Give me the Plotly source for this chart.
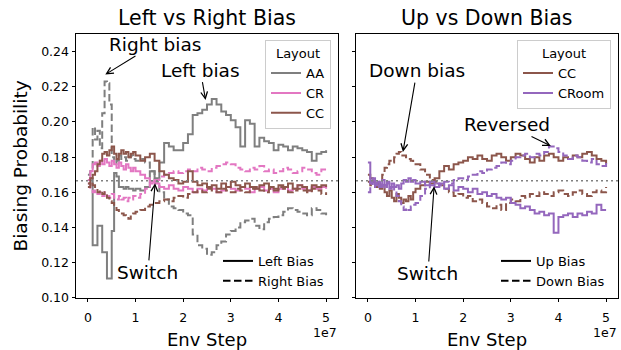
import plotly.graph_objects as go

# ---------------- data ----------------
ENV_STEP_M = [0, 0.5, 1.0, 1.5, 2.0, 2.5, 3.0, 3.5, 4.0, 4.5,
              5.0, 5.5, 6.0, 6.5, 7.0, 7.5, 8.0, 8.5, 9.0, 9.5,
              10, 11, 12, 13, 14, 15, 16, 17, 18, 19,
              20, 21, 22, 23, 24, 25, 26, 27, 28, 29,
              30, 31, 32, 33, 34, 35, 36, 37, 38, 39,
              40, 41, 42, 43, 44, 45, 46, 47, 48, 49, 50]

# Left vs Right panel
AA_LEFT = [0.167, 0.168, 0.130, 0.130, 0.141, 0.141, 0.126, 0.126, 0.111, 0.111,
           0.138, 0.171, 0.169, 0.163, 0.163, 0.162, 0.163, 0.162, 0.162, 0.161,
           0.162, 0.161, 0.163, 0.172, 0.168, 0.177, 0.188, 0.186, 0.184, 0.184,
           0.188, 0.193, 0.204, 0.205, 0.207, 0.210, 0.213, 0.210, 0.206, 0.204,
           0.201, 0.197, 0.186, 0.201, 0.199, 0.186, 0.191, 0.189, 0.188, 0.184,
           0.187, 0.186, 0.184, 0.186, 0.185, 0.184, 0.183, 0.178, 0.182, 0.183, 0.184]
AA_RIGHT = [0.170, 0.172, 0.197, 0.190, 0.195, 0.185, 0.205, 0.223, 0.222, 0.210,
            0.180, 0.176, 0.178, 0.181, 0.179, 0.180, 0.178, 0.180, 0.181, 0.179,
            0.178, 0.179, 0.177, 0.172, 0.166, 0.160, 0.156, 0.152, 0.151, 0.150,
            0.148, 0.147, 0.136, 0.130, 0.128, 0.1245, 0.126, 0.130, 0.132, 0.136,
            0.138, 0.140, 0.143, 0.144, 0.145, 0.141, 0.139, 0.143, 0.145, 0.146,
            0.147, 0.149, 0.151, 0.150, 0.149, 0.148, 0.147, 0.151, 0.150, 0.148, 0.147]
CR_LEFT = [0.167, 0.172, 0.176, 0.177, 0.175, 0.178, 0.176, 0.179, 0.177, 0.175,
           0.178, 0.176, 0.174, 0.177, 0.175, 0.173, 0.176, 0.174, 0.172, 0.174,
           0.172, 0.170, 0.168, 0.166, 0.165, 0.163, 0.162, 0.164, 0.162, 0.161,
           0.163, 0.162, 0.160, 0.162, 0.161, 0.163, 0.162, 0.160, 0.161, 0.163,
           0.162, 0.161, 0.163, 0.162, 0.160, 0.162, 0.163, 0.161, 0.162, 0.160,
           0.162, 0.163, 0.161, 0.162, 0.164, 0.162, 0.161, 0.163, 0.162, 0.163, 0.162]
CR_RIGHT = [0.165, 0.162, 0.160, 0.161, 0.159, 0.160, 0.158, 0.160, 0.158, 0.157,
            0.159, 0.157, 0.156, 0.158, 0.156, 0.157, 0.155, 0.157, 0.156, 0.158,
            0.157, 0.159, 0.162, 0.165, 0.167, 0.169, 0.170, 0.171, 0.172, 0.171,
            0.172, 0.173, 0.172, 0.174, 0.173, 0.172, 0.174, 0.175, 0.176, 0.177,
            0.176, 0.174, 0.173, 0.172, 0.174, 0.173, 0.175, 0.172, 0.173, 0.171,
            0.172, 0.174, 0.173, 0.171, 0.172, 0.174, 0.173, 0.171, 0.170, 0.173, 0.174]
CC_LEFT = [0.165, 0.168, 0.170, 0.172, 0.176, 0.178, 0.182, 0.183, 0.181, 0.184,
           0.186, 0.182, 0.179, 0.182, 0.184, 0.182, 0.183, 0.180, 0.182, 0.183,
           0.181, 0.178, 0.180, 0.182, 0.178, 0.172, 0.170, 0.168, 0.167, 0.165,
           0.166, 0.172, 0.166, 0.164, 0.165, 0.163, 0.164, 0.162, 0.165, 0.163,
           0.166, 0.164, 0.163, 0.165, 0.163, 0.162, 0.164, 0.165, 0.163, 0.162,
           0.164, 0.163, 0.165, 0.162, 0.164, 0.163, 0.161, 0.164, 0.163, 0.164, 0.163]
CC_RIGHT = [0.163, 0.166, 0.164, 0.162, 0.160, 0.161, 0.159, 0.160, 0.157, 0.155,
            0.154, 0.152, 0.150, 0.148, 0.148, 0.147, 0.146, 0.145, 0.147, 0.148,
            0.149, 0.150, 0.152, 0.153, 0.154, 0.155, 0.156, 0.155, 0.157, 0.158,
            0.157, 0.159, 0.160, 0.161, 0.160, 0.162, 0.161, 0.160, 0.162, 0.161,
            0.160, 0.162, 0.161, 0.160, 0.162, 0.163, 0.161, 0.160, 0.162, 0.161,
            0.163, 0.162, 0.160, 0.161, 0.162, 0.161, 0.160, 0.162, 0.161, 0.159, 0.160]

# Up vs Down panel
CC_UP = [0.170, 0.168, 0.166, 0.163, 0.165, 0.162, 0.164, 0.160, 0.158, 0.161,
         0.157, 0.155, 0.159, 0.157, 0.154, 0.156, 0.155, 0.158, 0.156, 0.160,
         0.162, 0.164, 0.166, 0.165, 0.168, 0.172, 0.175, 0.173, 0.176, 0.177,
         0.178, 0.180, 0.179, 0.181, 0.179, 0.178, 0.181, 0.182, 0.180, 0.178,
         0.180, 0.182, 0.181, 0.179, 0.177, 0.180, 0.178, 0.181, 0.182, 0.180,
         0.178, 0.180, 0.179, 0.181, 0.180, 0.182, 0.183, 0.181, 0.179, 0.178, 0.176]
CC_DOWN = [0.166, 0.164, 0.166, 0.165, 0.163, 0.167, 0.170, 0.174, 0.176, 0.178,
           0.177, 0.180, 0.182, 0.183, 0.181, 0.181, 0.180, 0.179, 0.178, 0.177,
           0.176, 0.173, 0.170, 0.167, 0.166, 0.164, 0.162, 0.160, 0.158, 0.159,
           0.157, 0.158, 0.155, 0.156, 0.154, 0.152, 0.151, 0.153, 0.150, 0.154,
           0.156, 0.155, 0.158, 0.157, 0.159, 0.158, 0.160, 0.159, 0.158, 0.160,
           0.161, 0.159, 0.158, 0.160, 0.161, 0.159, 0.158, 0.160, 0.161, 0.160, 0.163]
CROOM_UP = [0.177, 0.165, 0.168, 0.164, 0.166, 0.163, 0.167, 0.164, 0.166, 0.162,
            0.165, 0.163, 0.164, 0.162, 0.165, 0.167, 0.166, 0.168, 0.166, 0.167,
            0.165, 0.166, 0.164, 0.166, 0.163, 0.165, 0.162, 0.164, 0.161, 0.163,
            0.162, 0.160, 0.162, 0.159, 0.160, 0.158, 0.159, 0.157, 0.156, 0.157,
            0.154, 0.153, 0.151, 0.152, 0.150, 0.148, 0.149, 0.147, 0.148, 0.137,
            0.146, 0.147, 0.148, 0.146, 0.148, 0.147, 0.149, 0.148, 0.153, 0.150, 0.150]
CROOM_DOWN = [0.160, 0.166, 0.163, 0.165, 0.163, 0.166, 0.164, 0.162, 0.165, 0.163,
              0.163, 0.161, 0.158, 0.155, 0.152, 0.150, 0.151, 0.150, 0.152, 0.153,
              0.154, 0.158, 0.162, 0.164, 0.165, 0.164, 0.166, 0.165, 0.167, 0.168,
              0.167, 0.169, 0.170, 0.172, 0.171, 0.173, 0.174, 0.175, 0.177, 0.176,
              0.178, 0.180, 0.181, 0.182, 0.180, 0.182, 0.181, 0.183, 0.186, 0.185,
              0.183, 0.181, 0.179, 0.181, 0.180, 0.178, 0.177, 0.179, 0.176, 0.175, 0.177]

UNIFORM_PROB = 1 / 6
XTICK_VALUES = [0, 1e7, 2e7, 3e7, 4e7, 5e7]
XTICK_LABELS = ["0", "1", "2", "3", "4", "5"]
YTICK_VALUES = [0.10, 0.12, 0.14, 0.16, 0.18, 0.20, 0.22, 0.24]
YTICK_LABELS = ["0.10", "0.12", "0.14", "0.16", "0.18", "0.20", "0.22", "0.24"]

# ---------------- styles ----------------
FONT = "DejaVu Sans"
GRAY = "#7f7f7f"
PINK = "#e377c2"
BROWN = "#8c564b"
PURPLE = "#9467bd"
DASH = "7.5px,3.5px"
W = 621
H = 350

x = [v * 1e6 for v in ENV_STEP_M]

fig = go.Figure()


def add_series(y, color, dash, xa, ya):
    fig.add_trace(go.Scatter(
        x=x, y=y, mode="lines", showlegend=False, hoverinfo="skip",
        line=dict(color=color, width=2, dash=dash, shape="hv"),
        xaxis=xa, yaxis=ya))


def add_key(name, color, dash, legend, xa, ya):
    fig.add_trace(go.Scatter(
        x=[None], y=[None], mode="lines", name=name, legend=legend,
        line=dict(color=color, width=2, dash=dash),
        xaxis=xa, yaxis=ya))


# left panel
add_series(AA_LEFT, GRAY, "solid", "x", "y")
add_series(AA_RIGHT, GRAY, DASH, "x", "y")
add_series(CR_LEFT, PINK, "solid", "x", "y")
add_series(CR_RIGHT, PINK, DASH, "x", "y")
add_series(CC_LEFT, BROWN, "solid", "x", "y")
add_series(CC_RIGHT, BROWN, DASH, "x", "y")
# right panel
add_series(CC_UP, BROWN, "solid", "x2", "y2")
add_series(CC_DOWN, BROWN, DASH, "x2", "y2")
add_series(CROOM_UP, PURPLE, "solid", "x2", "y2")
add_series(CROOM_DOWN, PURPLE, DASH, "x2", "y2")

# legend keys
add_key("AA", GRAY, "solid", "legend", "x", "y")
add_key("CR", PINK, "solid", "legend", "x", "y")
add_key("CC", BROWN, "solid", "legend", "x", "y")
add_key("Left Bias", "black", "solid", "legend2", "x", "y")
add_key("Right Bias", "black", DASH, "legend2", "x", "y")
add_key("CC", BROWN, "solid", "legend3", "x2", "y2")
add_key("CRoom", PURPLE, "solid", "legend3", "x2", "y2")
add_key("Up Bias", "black", "solid", "legend4", "x2", "y2")
add_key("Down Bias", "black", DASH, "legend4", "x2", "y2")

LEFT_DOM = [76 / W, 338 / W]
RIGHT_DOM = [356 / W, 618 / W]
Y_DOM = [1 - 304 / H, 1 - 34.7 / H]

axis_common = dict(showline=True, mirror=True, linecolor="black", linewidth=1,
                   showgrid=False, zeroline=False, ticks="outside", ticklen=3.5,
                   tickwidth=0.8, tickcolor="black",
                   tickfont=dict(family=FONT, size=12.5, color="black"))

xcommon = dict(axis_common, range=[-0.25e7, 5.25e7], tickmode="array",
               tickvals=XTICK_VALUES, ticktext=XTICK_LABELS, ticklabelstandoff=5,
               title=dict(text="Env Step", font=dict(family=FONT, size=18, color="black"), standoff=8))
ycommon = dict(axis_common, range=[0.10, 0.25], tickmode="array",
               tickvals=YTICK_VALUES, ticktext=YTICK_LABELS, domain=Y_DOM)

legend_box = dict(bgcolor="rgba(255,255,255,0.8)", bordercolor="#cccccc", borderwidth=1,
                  font=dict(family=FONT, size=13, color="black"),
                  itemwidth=30, tracegroupgap=0,
                  title=dict(text="Layout", side="top center",
                             font=dict(family=FONT, size=13, color="black")))
legend_plain = dict(bgcolor="rgba(0,0,0,0)", borderwidth=0,
                    font=dict(family=FONT, size=13, color="black"),
                    itemwidth=30, tracegroupgap=0)

fig.update_layout(
    width=W, height=H, margin=dict(l=0, r=0, t=0, b=0),
    paper_bgcolor="white", plot_bgcolor="white",
    font=dict(family=FONT, color="black"),
    xaxis=dict(xcommon, domain=LEFT_DOM, anchor="y"),
    xaxis2=dict(xcommon, domain=RIGHT_DOM, anchor="y2"),
    yaxis=dict(ycommon, anchor="x",
               title=dict(text="Biasing Probability", font=dict(family=FONT, size=18.5, color="black"), standoff=8)),
    yaxis2=dict(ycommon, anchor="x2", showticklabels=False),
    legend=dict(legend_box, x=331 / W, xanchor="right", y=1 - 41 / H, yanchor="top"),
    legend2=dict(legend_plain, x=329 / W, xanchor="right", y=1 - 302 / H, yanchor="bottom"),
    legend3=dict(legend_box, x=611 / W, xanchor="right", y=1 - 41 / H, yanchor="top"),
    legend4=dict(legend_plain, x=610 / W, xanchor="right", y=1 - 302 / H, yanchor="bottom"),
    shapes=[
        dict(type="line", xref="x domain", yref="y", x0=0, x1=1, y0=UNIFORM_PROB, y1=UNIFORM_PROB,
             line=dict(color="#808080", width=1.5, dash="2px,3px")),
        dict(type="line", xref="x2 domain", yref="y2", x0=0, x1=1, y0=UNIFORM_PROB, y1=UNIFORM_PROB,
             line=dict(color="#808080", width=1.5, dash="2px,3px")),
    ],
)

ann_font = dict(family=FONT, size=18.5, color="black")


def arrow_note(text, tx, ty, hx, hy, xr, yr):
    fig.add_annotation(text=text, x=hx, y=hy, ax=tx, ay=ty, xref=xr, yref=yr,
                       axref=xr, ayref=yr, showarrow=True, arrowhead=5, arrowsize=1.2,
                       arrowwidth=1.1, arrowcolor="black", font=ann_font)


arrow_note("Right bias", 1.41e7, 0.2443, 0.365e7, 0.227, "x", "y")
arrow_note("Left bias", 2.36e7, 0.2295, 2.47e7, 0.2125, "x", "y")
arrow_note("Switch", 1.26e7, 0.1145, 1.41e7, 0.1652, "x", "y")
arrow_note("Down bias", 1.03e7, 0.2292, 0.735e7, 0.183, "x2", "y2")
arrow_note("Reversed", 2.92e7, 0.1986, 3.84e7, 0.1864, "x2", "y2")
arrow_note("Switch", 1.26e7, 0.1139, 1.39e7, 0.1635, "x2", "y2")

# panel titles
for txt, dom in (("Left vs Right Bias", LEFT_DOM), ("Up vs Down Bias", RIGHT_DOM)):
    fig.add_annotation(text=txt, x=(dom[0] + dom[1]) / 2, y=1 - 18 / H, xref="paper", yref="paper",
                       xanchor="center", yanchor="middle", showarrow=False,
                       font=dict(family=FONT, size=20.5, color="black"))

# offset text
for dom in (LEFT_DOM, RIGHT_DOM):
    fig.add_annotation(text="1e7", x=dom[1], y=1 - 339 / H, xref="paper", yref="paper",
                       xanchor="right", yanchor="middle", showarrow=False, borderpad=0,
                       font=dict(family=FONT, size=12.5, color="black"))

fig.write_html("out.html")
